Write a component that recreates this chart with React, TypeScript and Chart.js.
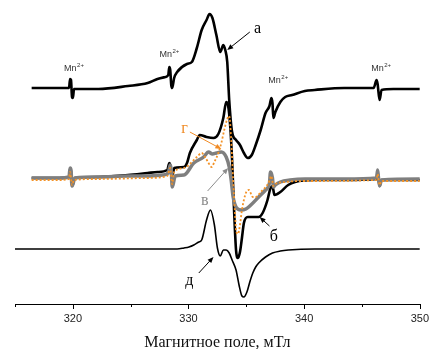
import { useEffect, useRef } from "react";
import { Chart, registerables } from "chart.js";

Chart.register(...registerables);

// ---------- data (field, mT / intensity, arb. units) ----------
const fieldA = [316.44, 318.82, 319.67, 319.76, 319.84, 319.93, 320.01, 320.1, 322.22, 324.77, 326.47, 327.32, 328.0, 328.25, 328.34, 328.42, 328.51, 328.59, 328.76, 329.02, 329.87, 330.29, 330.72, 331.14, 331.56, 331.82, 332.07, 332.41, 332.75, 333.01, 333.18, 333.35, 333.52, 333.77, 334.11, 334.45, 334.79, 335.13, 335.47, 335.81, 336.24, 336.66, 337.0, 337.17, 337.26, 337.34, 337.51, 337.94, 338.36, 338.96, 340.06, 340.91, 343.46, 346.01, 346.26, 346.35, 346.52, 346.69, 347.71, 350.0];
const intensityA = [216, 216, 216, 225, 224, 207, 206, 215, 215, 218, 221, 225, 227, 229, 237, 234, 219, 216, 226, 232, 240, 242, 256, 274, 284, 290, 286, 269, 252, 259, 254, 242, 204, 172, 164, 159, 151, 146, 149, 159, 174, 191, 198, 206, 201, 186, 192, 202, 207, 209, 213, 214, 216, 216, 224, 220, 204, 214, 215, 215];

const fieldB = [316.44, 318.82, 319.67, 319.76, 319.84, 319.93, 320.01, 320.18, 322.22, 324.77, 326.47, 327.32, 328.17, 328.34, 328.42, 328.51, 328.68, 328.76, 329.61, 329.87, 330.12, 330.72, 330.97, 331.56, 332.16, 332.58, 333.01, 333.26, 333.43, 333.6, 333.77, 333.94, 334.11, 334.28, 334.45, 334.62, 334.79, 335.13, 335.64, 336.07, 336.41, 336.83, 337.09, 337.26, 337.43, 337.68, 337.94, 338.62, 339.21, 340.91, 343.46, 346.26, 346.35, 346.52, 346.69, 350.0];
const intensityB = [126, 126, 127, 135, 133, 118, 120, 126, 127, 129, 131, 132, 134, 141, 139, 128, 132, 136, 137, 141, 151, 164, 169, 167, 166, 170, 186, 202, 198, 179, 144, 94, 54, 46, 52, 66, 81, 87, 87, 87, 91, 104, 116, 118, 109, 110, 112, 119, 122, 124, 124, 125, 132, 118, 124, 124];

const fieldV = [316.44, 318.82, 319.67, 319.76, 319.84, 319.93, 320.01, 320.18, 322.22, 324.77, 326.47, 327.74, 328.25, 328.42, 328.51, 328.59, 328.68, 328.85, 329.61, 330.46, 331.31, 331.73, 332.07, 332.41, 332.84, 333.26, 333.52, 333.69, 333.86, 334.11, 334.54, 334.96, 335.39, 336.07, 336.66, 337.0, 337.09, 337.26, 337.34, 337.51, 337.94, 338.79, 340.06, 343.46, 346.26, 346.35, 346.43, 346.52, 346.69, 350.0];
const intensityV = [126, 126, 127, 136, 134, 118, 120, 126, 127, 128, 128, 129, 131, 139, 134, 117, 120, 128, 129, 141, 147, 152, 150, 151, 152, 147, 137, 124, 107, 97, 94, 95, 99, 107, 114, 121, 132, 126, 117, 119, 122, 124, 125, 125, 126, 134, 126, 118, 124, 125];

const fieldG = [316.44, 318.82, 319.67, 319.76, 319.93, 320.1, 322.22, 326.47, 328.17, 328.42, 328.59, 328.76, 329.61, 330.72, 331.14, 331.48, 331.73, 331.99, 332.24, 332.58, 332.84, 333.09, 333.35, 333.52, 333.69, 333.86, 334.03, 334.11, 334.28, 334.45, 334.62, 334.96, 335.22, 335.56, 335.81, 336.24, 336.92, 337.17, 337.34, 337.51, 338.36, 340.06, 346.26, 346.35, 346.52, 346.69, 350.0];
const intensityG = [124, 124, 125, 132, 119, 124, 125, 126, 128, 136, 120, 132, 136, 147, 151, 146, 141, 137, 142, 151, 161, 174, 185, 188, 164, 124, 89, 74, 70, 79, 94, 111, 114, 107, 107, 112, 121, 128, 118, 120, 122, 123, 124, 130, 119, 123, 123];

const fieldD = [315.0, 318.82, 322.22, 326.47, 329.02, 329.61, 330.04, 330.46, 330.89, 331.14, 331.56, 331.9, 332.24, 332.5, 332.75, 333.01, 333.26, 333.52, 333.77, 334.11, 334.37, 334.62, 334.79, 335.05, 335.3, 335.56, 335.81, 336.07, 336.66, 337.26, 337.94, 338.62, 340.91, 350.0];
const intensityD = [55, 55, 55, 55, 55, 56, 57, 59, 62, 64, 84, 94, 79, 56, 48, 54, 54, 51, 44, 34, 19, 8, 7, 12, 22, 31, 37, 41, 47, 51, 53, 54, 55, 55];

const tickValues = [315, 320, 325, 330, 335, 340, 345, 350];
const tickLabels = ["", "320", "", "330", "", "340", "", "350"];
const axisTitle = "Магнитное поле, мТл";

// annotation texts
const mnText = "Mn";
const mnSup = "2+";
const mnLabelField = [319.24, 327.49, 336.9, 345.8];
const mnLabelLevel = [233, 247, 221, 233];

const letterTexts = ["а", "б", "в", "г", "д"];
const letterField = [335.98, 337.38, 331.4, 329.65, 330.08];
const letterLevel = [275, 67, 103, 175.5, 23];
const letterColors = ["#000000", "#000000", "#8c8c8c", "#f08a24", "#000000"];
const arrowFromField = [335.3, 337.0, 331.65, 330.12, 330.89];
const arrowFromLevel = [272, 78, 113, 172, 31];
const arrowToField = [333.35, 336.15, 333.43, 332.84, 332.16];
const arrowToLevel = [254, 87, 136, 155, 47];

function pts(xs: number[], ys: number[]) {
  return xs.map((x, i) => ({ x, y: ys[i] }));
}

const overlayPlugin = {
  id: "overlay",
  afterDatasetsDraw(chart: any) {
    const { ctx, scales } = chart;
    const xs = scales.x;
    const ys = scales.y;
    ctx.save();
    // Mn2+ labels
    ctx.fillStyle = "#333333";
    ctx.textBaseline = "alphabetic";
    ctx.textAlign = "left";
    mnLabelField.forEach((f, i) => {
      const px = xs.getPixelForValue(f);
      const py = ys.getPixelForValue(mnLabelLevel[i]);
      ctx.font = "9px 'Liberation Sans', Arial, sans-serif";
      ctx.fillText(mnText, px, py);
      const w = ctx.measureText(mnText).width;
      ctx.font = "6px 'Liberation Sans', Arial, sans-serif";
      ctx.fillText(mnSup, px + w + 0.5, py - 4.5);
    });
    // letter labels and arrows
    letterTexts.forEach((t, i) => {
      const c = letterColors[i];
      ctx.fillStyle = c;
      ctx.strokeStyle = c;
      ctx.font = "16px 'Liberation Serif', 'Times New Roman', serif";
      ctx.textAlign = "center";
      ctx.textBaseline = "middle";
      ctx.fillText(t, xs.getPixelForValue(letterField[i]), ys.getPixelForValue(letterLevel[i]));
      const x1 = xs.getPixelForValue(arrowFromField[i]);
      const y1 = ys.getPixelForValue(arrowFromLevel[i]);
      const x2 = xs.getPixelForValue(arrowToField[i]);
      const y2 = ys.getPixelForValue(arrowToLevel[i]);
      const ang = Math.atan2(y2 - y1, x2 - x1);
      const hl = 6;
      const hw = 2.5;
      ctx.lineWidth = 1;
      ctx.beginPath();
      ctx.moveTo(x1, y1);
      ctx.lineTo(x2 - Math.cos(ang) * hl * 0.8, y2 - Math.sin(ang) * hl * 0.8);
      ctx.stroke();
      ctx.beginPath();
      ctx.moveTo(x2, y2);
      ctx.lineTo(x2 - Math.cos(ang) * hl + Math.sin(ang) * hw, y2 - Math.sin(ang) * hl - Math.cos(ang) * hw);
      ctx.lineTo(x2 - Math.cos(ang) * hl - Math.sin(ang) * hw, y2 - Math.sin(ang) * hl + Math.cos(ang) * hw);
      ctx.closePath();
      ctx.fill();
    });
    ctx.restore();
  },
  afterDraw(chart: any) {
    const { ctx, scales, chartArea } = chart;
    const xs = scales.x;
    ctx.save();
    ctx.strokeStyle = "#000000";
    ctx.lineWidth = 1;
    tickValues.forEach((v, i) => {
      const px = Math.round(xs.getPixelForValue(v)) + 0.5;
      const len = tickLabels[i] ? 5 : 3;
      ctx.beginPath();
      ctx.moveTo(px, chartArea.bottom);
      ctx.lineTo(px, chartArea.bottom + len);
      ctx.stroke();
    });
    ctx.restore();
  },
};

export default function App() {
  const ref = useRef<HTMLCanvasElement | null>(null);
  useEffect(() => {
    if (!ref.current) return;
    const common = { pointRadius: 0, fill: false, cubicInterpolationMode: "monotone" as const };
    const chart = new Chart(ref.current, {
      type: "line",
      data: {
        datasets: [
          { ...common, label: "г", data: pts(fieldG, intensityG), borderColor: "#f39226", borderWidth: 1.8, borderDash: [2, 2], order: 0 },
          { ...common, label: "в", data: pts(fieldV, intensityV), borderColor: "#7f7f7f", borderWidth: 3.5, order: 1 },
          { ...common, label: "б", data: pts(fieldB, intensityB), borderColor: "#000000", borderWidth: 2.6, order: 2 },
          { ...common, label: "а", data: pts(fieldA, intensityA), borderColor: "#000000", borderWidth: 2.6, order: 3 },
          { ...common, label: "д", data: pts(fieldD, intensityD), borderColor: "#000000", borderWidth: 1.6, order: 4 },
        ],
      },
      options: {
        responsive: false,
        animation: false,
        events: [],
        layout: { padding: { left: 15, right: 10, top: 4, bottom: 0 } },
        plugins: { legend: { display: false }, tooltip: { enabled: false } },
        scales: {
          x: {
            type: "linear",
            min: 315,
            max: 350,
            afterFit: (s: any) => {
              s.height = 45;
            },
            grid: { display: false, drawTicks: false },
            border: { display: true, color: "#000000", width: 1 },
            ticks: {
              stepSize: 5,
              autoSkip: false,
              maxRotation: 0,
              padding: 8,
              color: "#222222",
              font: { family: "'Liberation Sans', Arial, sans-serif", size: 11 },
              callback: (v: any) => {
                const i = tickValues.indexOf(Number(v));
                return i >= 0 ? tickLabels[i] : "";
              },
            },
            title: {
              display: true,
              text: axisTitle,
              color: "#111111",
              padding: { top: 0, bottom: 0 },
              font: { family: "'Liberation Serif', 'Times New Roman', serif", size: 16, lineHeight: 0.8 },
            },
          },
          y: { display: false, min: 0, max: 300 },
        },
      },
      plugins: [overlayPlugin],
    });
    return () => chart.destroy();
  }, []);
  return (
    <div style={{ position: "fixed", left: 0, top: 0, width: 437, height: 349, background: "#fff" }}>
      <canvas ref={ref} width={437} height={349} style={{ display: "block" }} />
    </div>
  );
}
